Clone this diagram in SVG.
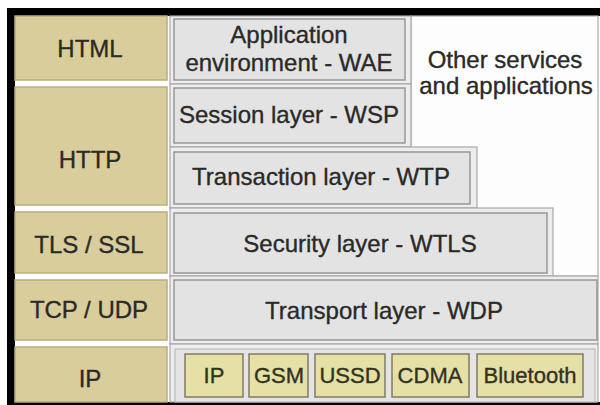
<svg xmlns="http://www.w3.org/2000/svg" width="600" height="405" viewBox="0 0 600 405">
  <style>
    text { font-family: "Liberation Sans", Arial, sans-serif; font-size: 24px; fill: #2a2a28; stroke: #2a2a28; stroke-width: 0.35; text-anchor: middle; }
    .tan { fill: #d8cd9b; stroke: #b9ad7c; stroke-width: 1.5; }
    .cell { fill: #ededed; stroke: #a8a8a8; stroke-width: 1.2; }
    .box { fill: #e3e3e3; stroke: #929292; stroke-width: 1.4; }
    .chip { fill: #e6dfa6; stroke: #7f7b62; stroke-width: 1.5; }
    .small { font-size: 22px; fill: #33321f; stroke: #33321f; }
  </style>

  <!-- page and frame -->
  <rect x="0" y="0" width="600" height="405" fill="#ffffff"/>
  <rect x="7" y="8" width="593" height="8" fill="#000"/>
  <rect x="7" y="8" width="8" height="397" fill="#000"/>
  <rect x="7" y="402" width="593" height="3" fill="#000"/>

  <!-- Internet stack column -->
  <g id="html"><rect class="tan" x="15" y="16" width="152" height="64"/><text x="90" y="57">HTML</text></g>
  <g id="http"><rect class="tan" x="15" y="87" width="152" height="118"/><text x="90" y="168">HTTP</text></g>
  <g id="tls"><rect class="tan" x="15" y="212" width="152" height="61"/><text x="89" y="253">TLS / SSL</text></g>
  <g id="tcp"><rect class="tan" x="15" y="280" width="152" height="60"/><text x="89" y="318">TCP / UDP</text></g>
  <g id="ip"><rect class="tan" x="15" y="347" width="152" height="55"/><text x="90" y="387">IP</text></g>

  <!-- other services area -->
  <g id="other">
    <rect x="411" y="16" width="187" height="260" fill="#fdfdfd" stroke="#b0b0b0" stroke-width="1.2"/>
    <text x="505" y="68">Other services</text>
    <text x="506" y="94">and applications</text>
  </g>

  <!-- WAP stack column -->
  <g id="wae">
    <rect class="cell" x="170" y="16" width="241" height="68"/>
    <rect class="box" x="174" y="19" width="231" height="61"/>
    <text x="289" y="43">Application</text>
    <text x="289" y="71">environment - WAE</text>
  </g>
  <g id="wsp">
    <rect class="cell" x="170" y="84" width="241" height="63"/>
    <rect class="box" x="174" y="88" width="231" height="55"/>
    <text x="289" y="123">Session layer - WSP</text>
  </g>
  <g id="wtp">
    <rect class="cell" x="170" y="147" width="307" height="61"/>
    <rect class="box" x="174" y="152" width="296" height="52"/>
    <text x="321" y="185">Transaction layer - WTP</text>
  </g>
  <g id="wtls">
    <rect class="cell" x="170" y="208" width="383" height="68"/>
    <rect class="box" x="174" y="213" width="373" height="60"/>
    <text x="360" y="252">Security layer - WTLS</text>
  </g>
  <g id="wdp">
    <rect class="cell" x="170" y="276" width="428" height="68"/>
    <rect class="box" x="174" y="280" width="423" height="60"/>
    <text x="384" y="319">Transport layer - WDP</text>
  </g>
  <g id="bearers">
    <rect class="cell" x="170" y="344" width="428" height="58"/>
    <rect x="175" y="349" width="420" height="53" fill="#e4e4e4" stroke="#b4b4b4" stroke-width="1"/>
  </g>
  <g id="bearer-ip"><rect class="chip" x="185" y="354" width="58" height="43"/><text class="small" x="214" y="383">IP</text></g>
  <g id="bearer-gsm"><rect class="chip" x="249" y="354" width="59" height="43"/><text class="small" x="279" y="383">GSM</text></g>
  <g id="bearer-ussd"><rect class="chip" x="315" y="354" width="70" height="43"/><text class="small" x="350" y="383">USSD</text></g>
  <g id="bearer-cdma"><rect class="chip" x="392" y="354" width="77" height="43"/><text class="small" x="430" y="383">CDMA</text></g>
  <g id="bearer-bluetooth"><rect class="chip" x="477" y="354" width="106" height="43"/><text class="small" x="530" y="383">Bluetooth</text></g>
</svg>
